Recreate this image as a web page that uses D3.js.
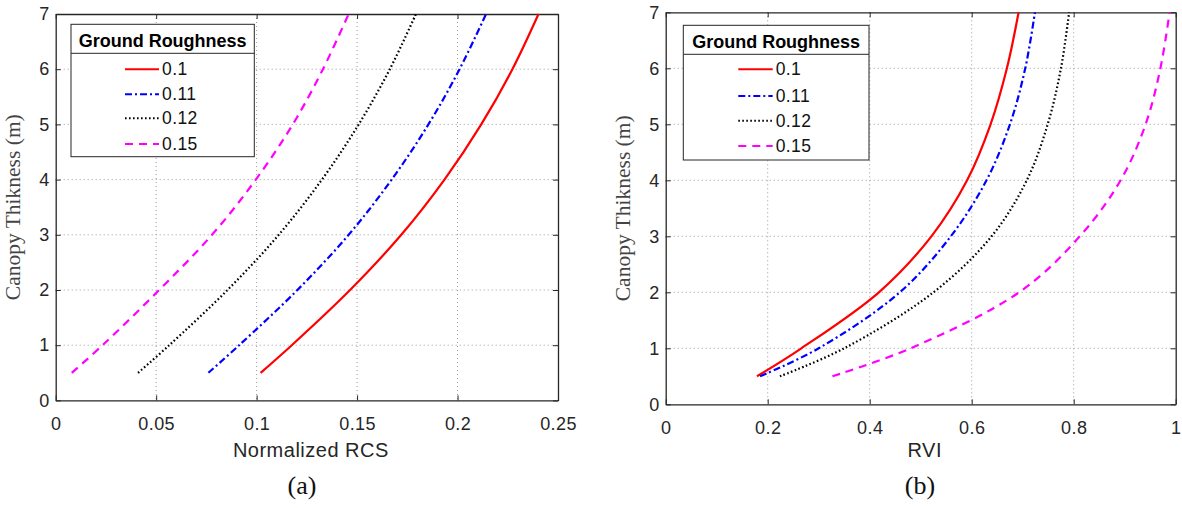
<!DOCTYPE html>
<html><head><meta charset="utf-8">
<script src="https://cdn.jsdelivr.net/npm/d3@7"></script>
<style>body{margin:0;background:#fff}svg{display:block}</style>
</head><body>
<svg id="c" width="1182" height="508"></svg>
<script>
// ---- data ----
const thickness = [0.5, 1, 2, 3, 4, 5, 6, 7];
const roughness = ["0.1", "0.11", "0.12", "0.15"];
// Panel (a): Normalized RCS at each thickness
const rcs_01  = [0.102, 0.1175, 0.1465, 0.1720, 0.1935, 0.2118, 0.2273, 0.2403];
const rcs_011 = [0.076, 0.0913, 0.1203, 0.1458, 0.1672, 0.1855, 0.2010, 0.2142];
const rcs_012 = [0.041, 0.0565, 0.0855, 0.1110, 0.1325, 0.1508, 0.1663, 0.1793];
const rcs_015 = [0.008, 0.0233, 0.0515, 0.0778, 0.0996, 0.1180, 0.1330, 0.1458];
// Panel (b): RVI at each thickness
const rvi_01  = [0.179, 0.266, 0.418, 0.521, 0.591, 0.637, 0.669, 0.692];
const rvi_011 = [0.185, 0.300, 0.459, 0.559, 0.629, 0.675, 0.705, 0.724];
const rvi_012 = [0.224, 0.350, 0.525, 0.639, 0.708, 0.749, 0.775, 0.791];
const rvi_015 = [0.327, 0.480, 0.693, 0.812, 0.892, 0.941, 0.970, 0.988];
const xTicksA = [0, 0.05, 0.1, 0.15, 0.2, 0.25];
const xTicksB = [0, 0.2, 0.4, 0.6, 0.8, 1];
const yTicks = [0, 1, 2, 3, 4, 5, 6, 7];

const styles = [
  {color:"#ff0000", dash:null},
  {color:"#0000ff", dash:"7,3,2,3"},
  {color:"#000000", dash:"1.6,2.4"},
  {color:"#ff00ff", dash:"8,6"}
];

const svg = d3.select("#c");
const axisColor = "#262626";
const sans = "Liberation Sans, Arial, sans-serif";
const serif = "Liberation Serif, Times New Roman, serif";

function panel(cfg){
  const {x0,x1,y0,y1,xDomain,xTicks,series,xLabel,tag,tagX,leg} = cfg;
  const x = d3.scaleLinear().domain(xDomain).range([x0,x1]);
  const y = d3.scaleLinear().domain([0,7]).range([y1,y0]);
  const g = svg.append("g");
  // grid
  g.append("g").selectAll("line").data(xTicks.slice(1,-1)).join("line")
    .attr("x1",d=>x(d)).attr("x2",d=>x(d)).attr("y1",y0).attr("y2",y1)
    .attr("stroke","#9a9a9a").attr("stroke-width",1).attr("stroke-dasharray","1,3");
  g.append("g").selectAll("line").data(yTicks.slice(1,-1)).join("line")
    .attr("y1",d=>y(d)).attr("y2",d=>y(d)).attr("x1",x0).attr("x2",x1)
    .attr("stroke","#9a9a9a").attr("stroke-width",1).attr("stroke-dasharray","1,3");
  // axes
  const fmt = d=>String(d);
  const ax = g.append("g").attr("transform",`translate(0,${y1})`)
    .call(d3.axisBottom(x).tickValues(xTicks).tickFormat(fmt).tickSizeInner(-5).tickSizeOuter(0).tickPadding(17));
  const axT = g.append("g").attr("transform",`translate(0,${y0})`)
    .call(d3.axisTop(x).tickValues(xTicks).tickFormat("").tickSizeInner(-5).tickSizeOuter(0));
  const ay = g.append("g").attr("transform",`translate(${x0},0)`)
    .call(d3.axisLeft(y).tickValues(yTicks).tickFormat(fmt).tickSizeInner(-5).tickSizeOuter(0).tickPadding(6));
  const ayR = g.append("g").attr("transform",`translate(${x1},0)`)
    .call(d3.axisRight(y).tickValues(yTicks).tickFormat("").tickSizeInner(-5).tickSizeOuter(0));
  [ax,axT,ay,ayR].forEach(a=>{
    a.selectAll("path").attr("stroke",axisColor).attr("stroke-width",1.3);
    a.selectAll("line").attr("stroke",axisColor).attr("stroke-width",1);
    a.selectAll("text").attr("fill",axisColor).attr("font-family",sans).attr("font-size",18).attr("letter-spacing",0.4);
  });
  // curves
  const line = d3.line().x(d=>x(d[0])).y(d=>y(d[1])).curve(d3.curveCatmullRom.alpha(0.5));
  series.forEach((s,i)=>{
    const pts = s.map((v,j)=>[v,thickness[j]]);
    g.append("path").attr("d",line(pts)).attr("fill","none")
      .attr("stroke",styles[i].color).attr("stroke-width",2.2)
      .attr("stroke-dasharray",styles[i].dash);
  });
  // labels
  g.append("text").attr("x",(x0+x1)/2+4).attr("y",457).attr("text-anchor","middle")
    .attr("font-family",sans).attr("font-size",20).attr("letter-spacing",0.5).attr("fill",axisColor).text(xLabel);
  g.append("text").attr("transform",`translate(${x0-36},${(y0+y1)/2}) rotate(-90)`).attr("text-anchor","middle")
    .attr("font-family",serif).attr("font-size",21.5).attr("fill","#444").text("Canopy Thikness (m)");
  g.append("text").attr("x",tagX).attr("y",494).attr("text-anchor","middle")
    .attr("font-family",serif).attr("font-size",26).attr("fill","#111").text(tag);
  // legend
  const L = g.append("g");
  L.append("rect").attr("x",leg.x).attr("y",leg.y).attr("width",leg.w).attr("height",leg.h)
    .attr("fill","#fff").attr("stroke",axisColor).attr("stroke-width",1);
  L.append("line").attr("x1",leg.x).attr("x2",leg.x+leg.w).attr("y1",leg.sep).attr("y2",leg.sep)
    .attr("stroke",axisColor).attr("stroke-width",1);
  L.append("text").attr("x",leg.x+leg.w/2).attr("y",leg.y+22.5).attr("text-anchor","middle")
    .attr("font-family",sans).attr("font-weight","bold").attr("font-size",18)
    .attr("fill","#000").text("Ground Roughness");
  roughness.forEach((r,i)=>{
    const yy = leg.rows[i];
    L.append("line").attr("x1",leg.lx0).attr("x2",leg.lx1).attr("y1",yy).attr("y2",yy)
      .attr("stroke",styles[i].color).attr("stroke-width",2).attr("stroke-dasharray",styles[i].dash);
    L.append("text").attr("x",leg.tx).attr("y",yy+6).attr("font-family",sans)
      .attr("font-size",17.5).attr("letter-spacing",0.4).attr("fill","#111").text(r);
  });
}

panel({x0:55.7,x1:558,y0:14,y1:400.4,xDomain:[0,0.25],xTicks:xTicksA,
  series:[rcs_01,rcs_011,rcs_012,rcs_015],xLabel:"Normalized RCS",tag:"(a)",tagX:302,
  leg:{x:71,y:24.3,w:183.3,h:132.4,sep:53.3,lx0:125,lx1:159,tx:162,rows:[69.3,94.3,118.3,144]}});
panel({x0:665.7,x1:1175.7,y0:12.3,y1:404.3,xDomain:[0,1],xTicks:xTicksB,
  series:[rvi_01,rvi_011,rvi_012,rvi_015],xLabel:"RVI",tag:"(b)",tagX:920,
  leg:{x:683.3,y:25.3,w:185.7,h:134.7,sep:54.3,lx0:738.3,lx1:772.7,tx:775.7,rows:[69.3,96,120.7,146]}});
</script>
</body></html>
